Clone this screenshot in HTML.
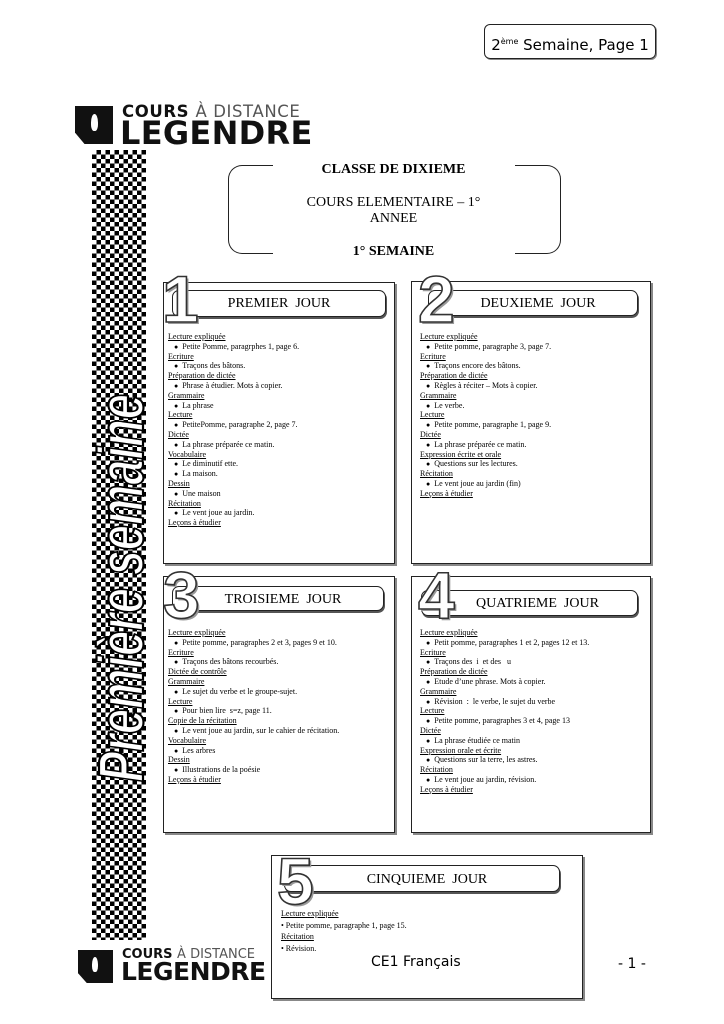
<!DOCTYPE html>
<html><head><meta charset="utf-8"><style>
body{margin:0;width:724px;height:1024px;background:#fff;position:relative;overflow:hidden;font-family:"Liberation Serif",serif;color:#000}
.a{position:absolute}
.box{position:absolute;border:1.5px solid #222;box-shadow:2px 2px 0 #888;background:#fff}
.pill{position:absolute;border:1.5px solid #222;border-radius:7px;box-shadow:1px 2px 0 #555;background:#fff;font-size:14px;text-align:center}
.c{position:absolute;font-size:8px;line-height:9.8px;white-space:nowrap}
.c u,.c div{display:block;height:9.8px;line-height:9.8px}
.c u{text-decoration:underline}
.b{padding-left:6px}
.b:before{content:"\25CF";margin-right:4px;font-size:7px}
.num{position:absolute;font-family:"Liberation Sans",sans-serif;font-weight:bold;font-size:66px;color:#fff;-webkit-text-stroke:1.6px #333;line-height:1;text-shadow:2px 2px 0 #999}
.comic{font-family:"DejaVu Sans",sans-serif}
</style></head><body>
<div class="a comic" style="left:484px;top:24px;width:170px;height:33px;border:1.5px solid #222;border-radius:6px;box-shadow:1px 1px 0 #888;font-size:15px;text-align:center;line-height:33px">2<sup style="font-size:8px">ème</sup> Semaine, Page 1</div>

<div class="a" style="left:75px;top:106px;width:38px;height:38px;background:#111;clip-path:polygon(0 0,100% 0,100% 100%,25% 100%,0 70%)"></div>
<div class="a" style="left:91px;top:114px;width:7px;height:17px;background:#fff;border-radius:50% 50% 40% 40%"></div>
<div class="a" style="left:122px;top:102px;font-family:'DejaVu Sans',sans-serif;font-size:16.5px;font-weight:bold;letter-spacing:0.6px;color:#111">COURS <span style="font-weight:normal;color:#555">À DISTANCE</span></div>
<div class="a" style="left:120px;top:114px;font-family:'DejaVu Sans',sans-serif;font-size:32px;font-weight:bold;color:#111;letter-spacing:0.3px">LEGENDRE</div>

<div class="a" style="left:92px;top:150px;width:54px;height:790px;background:repeating-conic-gradient(#000 0 25%,#fff 0 50%) 0 0/9px 9px"></div>
<svg class="a" style="left:88px;top:380px" width="64" height="410"><text transform="translate(55,402) rotate(-90)" font-family="Liberation Sans" font-style="italic" font-weight="bold" font-size="64" fill="#fff" stroke="#000" stroke-width="2.2" textLength="388" lengthAdjust="spacingAndGlyphs">Première semaine</text></svg>

<div class="a" style="left:228px;top:165px;width:44px;height:87px;border:1.5px solid #222;border-right:none;border-radius:14px 0 0 14px"></div>
<div class="a" style="left:515px;top:165px;width:45px;height:87px;border:1.5px solid #222;border-left:none;border-radius:0 14px 14px 0"></div>
<div class="a" style="left:272px;top:162px;width:243px;text-align:center;font-size:14px;line-height:16px">
<div style="font-weight:bold">CLASSE DE DIXIEME</div>
<div style="margin-top:17px">COURS ELEMENTAIRE – 1°</div>
<div>ANNEE</div>
<div style="margin-top:17px;font-weight:bold;height:12px;overflow:hidden">1° SEMAINE</div></div>

<!-- box1 -->
<div class="box" style="left:163px;top:282px;width:230px;height:280px"></div>
<div class="pill" style="left:172px;top:290px;width:212px;height:25px;line-height:25px">PREMIER&nbsp; JOUR</div>
<div class="num" style="left:162px;top:266px">1</div>
<div class="c" style="left:168px;top:332px">
<u>Lecture expliquée</u><div class="b">Petite Pomme, paragrphes 1, page 6.</div><u>Ecriture</u><div class="b">Traçons des bâtons.</div><u>Préparation de dictée</u><div class="b">Phrase à étudier. Mots à copier.</div><u>Grammaire</u><div class="b">La phrase</div><u>Lecture</u><div class="b">PetitePomme, paragraphe 2, page 7.</div><u>Dictée</u><div class="b">La phrase préparée ce matin.</div><u>Vocabulaire</u><div class="b">Le diminutif ette.</div><div class="b">La maison.</div><u>Dessin</u><div class="b">Une maison</div><u>Récitation</u><div class="b">Le vent joue au jardin.</div><u>Leçons à étudier</u></div>

<!-- box2 -->
<div class="box" style="left:411px;top:281px;width:238px;height:281px"></div>
<div class="pill" style="left:428px;top:290px;width:210px;height:26px;line-height:26px;padding-left:10px;box-sizing:border-box">DEUXIEME&nbsp; JOUR</div>
<div class="num" style="left:418px;top:266px">2</div>
<div class="c" style="left:420px;top:332px">
<u>Lecture expliquée</u><div class="b">Petite pomme, paragraphe 3, page 7.</div><u>Ecriture</u><div class="b">Traçons encore des bâtons.</div><u>Préparation de dictée</u><div class="b">Règles à réciter – Mots à copier.</div><u>Grammaire</u><div class="b">Le verbe.</div><u>Lecture</u><div class="b">Petite pomme, paragraphe 1, page 9.</div><u>Dictée</u><div class="b">La phrase préparée ce matin.</div><u>Expression écrite et orale</u><div class="b">Questions sur les lectures.</div><u>Récitation</u><div class="b">Le vent joue au jardin (fin)</div><u>Leçons à étudier</u></div>

<!-- box3 -->
<div class="box" style="left:163px;top:576px;width:230px;height:255px"></div>
<div class="pill" style="left:172px;top:586px;width:212px;height:25px;line-height:25px;padding-left:10px;box-sizing:border-box">TROISIEME&nbsp; JOUR</div>
<div class="num" style="left:163px;top:562px">3</div>
<div class="c" style="left:168px;top:628px">
<u>Lecture expliquée</u><div class="b">Petite pomme, paragraphes 2 et 3, pages 9 et 10.</div><u>Ecriture</u><div class="b">Traçons des bâtons recourbés.</div><u>Dictée de contrôle</u><u>Grammaire</u><div class="b">Le sujet du verbe et le groupe-sujet.</div><u>Lecture</u><div class="b">Pour bien lire&nbsp; s=z, page 11.</div><u>Copie de la récitation</u><div class="b">Le vent joue au jardin, sur le cahier de récitation.</div><u>Vocabulaire</u><div class="b">Les arbres</div><u>Dessin</u><div class="b">Illustrations de la poésie</div><u>Leçons à étudier</u></div>

<!-- box4 -->
<div class="box" style="left:411px;top:576px;width:238px;height:255px"></div>
<div class="pill" style="left:421px;top:590px;width:217px;height:26px;line-height:26px;padding-left:16px;box-sizing:border-box">QUATRIEME&nbsp; JOUR</div>
<div class="num" style="left:418px;top:562px">4</div>
<div class="c" style="left:420px;top:628px">
<u>Lecture expliquée</u><div class="b">Petit pomme, paragraphes 1 et 2, pages 12 et 13.</div><u>Ecriture</u><div class="b">Traçons des&nbsp; i&nbsp; et des&nbsp;&nbsp; u</div><u>Préparation de dictée</u><div class="b">Etude d’une phrase. Mots à copier.</div><u>Grammaire</u><div class="b">Révision&nbsp; :&nbsp; le verbe, le sujet du verbe</div><u>Lecture</u><div class="b">Petite pomme, paragraphes 3 et 4, page 13</div><u>Dictée</u><div class="b">La phrase étudiée ce matin</div><u>Expression orale et écrite</u><div class="b">Questions sur la terre, les astres.</div><u>Récitation</u><div class="b">Le vent joue au jardin, révision.</div><u>Leçons à étudier</u></div>

<!-- box5 -->
<div class="box" style="left:271px;top:855px;width:310px;height:142px"></div>
<div class="pill" style="left:284px;top:865px;width:276px;height:27px;line-height:27px;padding-left:10px;box-sizing:border-box">CINQUIEME&nbsp; JOUR</div>
<div class="num" style="left:277px;top:848px">5</div>
<div class="c" style="left:281px;top:908px;line-height:11.5px">
<span style="text-decoration:underline">Lecture expliquée</span><br>• Petite pomme, paragraphe 1, page 15.<br><span style="text-decoration:underline">Récitation</span><br>• Révision.</div>
<div class="a comic" style="left:371px;top:954px;font-size:14px">CE1 Français</div>
<div class="a comic" style="left:618px;top:956px;font-size:14px">- 1 -</div>

<div class="a" style="left:78px;top:950px;width:35px;height:33px;background:#111;clip-path:polygon(0 0,100% 0,100% 100%,25% 100%,0 70%)"></div>
<div class="a" style="left:92px;top:957px;width:6px;height:15px;background:#fff;border-radius:50% 50% 40% 40%"></div>
<div class="a" style="left:122px;top:947px;font-family:'DejaVu Sans',sans-serif;font-size:13px;font-weight:bold;color:#111">COURS <span style="font-weight:normal;color:#555">À DISTANCE</span></div>
<div class="a" style="left:121px;top:957px;font-family:'DejaVu Sans',sans-serif;font-size:25px;font-weight:bold;color:#111;letter-spacing:-0.5px">LEGENDRE</div>
</body></html>
